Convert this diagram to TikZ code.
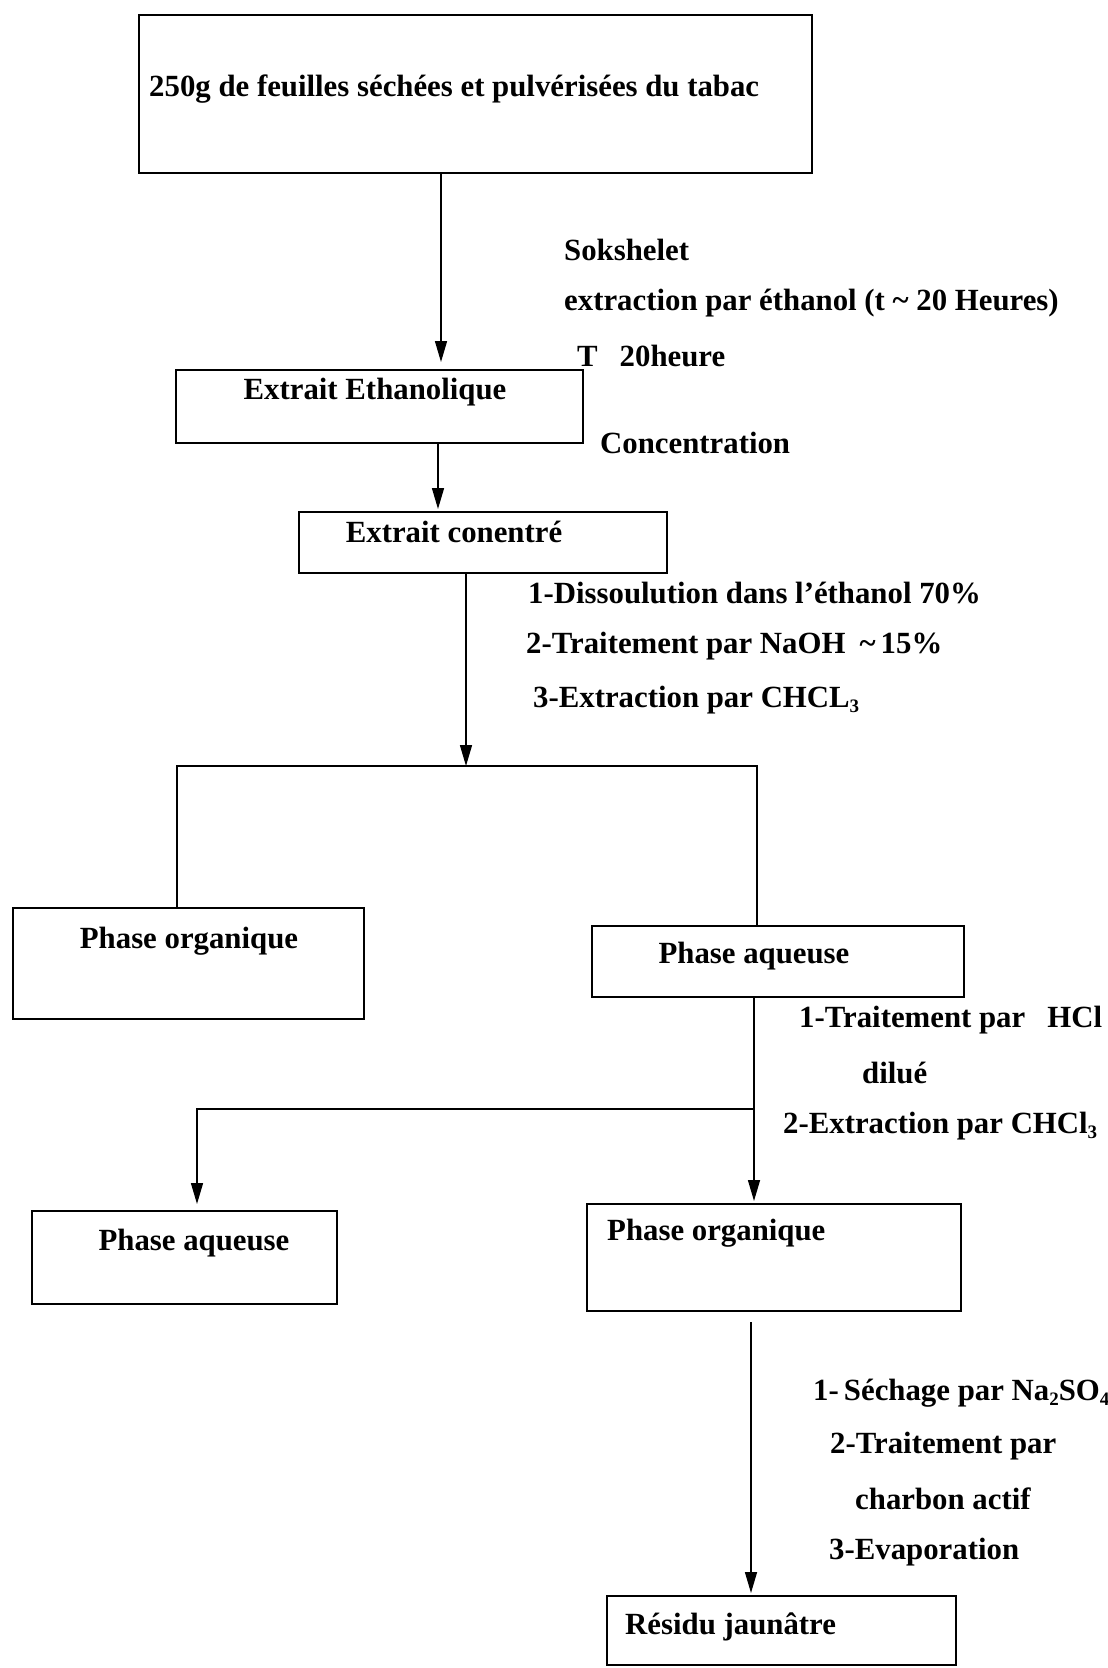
\documentclass[tikz,border=0pt]{standalone}
\usepackage{fontspec}
\setmainfont{Liberation Serif}
\usetikzlibrary{arrows.meta}
\newcommand\mysub[1]{\raisebox{-5pt}{\fontsize{19}{19}\selectfont #1}}
\begin{document}
\begin{tikzpicture}[x=1pt,y=-1pt,
  box/.style={draw,line width=1.5pt,inner sep=0pt,anchor=north west},
  txt/.style={font=\fontsize{30.8}{36}\selectfont\bfseries,inner sep=0pt,anchor=west,yshift=-2pt},
  ln/.style={line width=1.5pt},
  arr/.style={line width=1.5pt,-{Triangle[length=21pt,width=12pt]}}]
\useasboundingbox (0,0) rectangle (1108,1668);
% boxes
\node[box,minimum width=673pt,minimum height=158pt] (top) at (138,14) {};
\node[box,minimum width=407pt,minimum height=73pt] (eth) at (175,369) {};
\node[box,minimum width=368pt,minimum height=61pt] (conc) at (298,511) {};
\node[box,minimum width=351pt,minimum height=111pt] (po1) at (12,907) {};
\node[box,minimum width=372pt,minimum height=71pt] (pa1) at (591,925) {};
\node[box,minimum width=305pt,minimum height=93pt] (pa2) at (31,1210) {};
\node[box,minimum width=374pt,minimum height=107pt] (po2) at (586,1203) {};
\node[box,minimum width=349pt,minimum height=69pt] (res) at (606,1595) {};
% box texts
\node[txt] (ttop) at (149,87) {250g de feuilles séchées et pulvérisées du tabac};
\node[txt,anchor=center] (teth) at (375,390) {Extrait Ethanolique};
\node[txt,anchor=center] (tconc) at (454,530) {Extrait conentré};
\node[txt,anchor=center] (tpo1) at (189,939) {Phase organique};
\node[txt,anchor=center] (tpa1) at (754,954) {Phase aqueuse};
\node[txt,anchor=center] (tpa2) at (194,1241) {Phase aqueuse};
\node[txt] (tpo2) at (607,1231) {Phase organique};
\node[txt] (tres) at (625,1625) {Résidu jaunâtre};
% step labels
\node[txt] (l1) at (564,248) {Sokshelet};
\node[txt] (l2) at (564,301) {extraction par éthanol (t \textasciitilde\ 20 Heures)};
\node[txt] (l3) at (577,354) {T\hspace{22pt}20heure};
\node[txt] (l4) at (600,441) {Concentration};
\node[txt] (l5) at (528,591) {1-Dissoulution dans l’éthanol 70\%};
\node[txt] (l6) at (526,644) {2-Traitement par NaOH\hspace{14pt}\textasciitilde\,15\%};
\node[txt] (l7) at (533,698) {3-Extraction par CHCL\mysub{3}};
\node[txt] (l8) at (799,1018) {1-Traitement par\hspace{22pt}HCl};
\node[txt] (l9) at (862,1071) {dilué};
\node[txt] (l10) at (783,1124) {2-Extraction par CHCl\mysub{3}};
\node[txt] (l11) at (813,1391) {1-\,Séchage par Na\mysub{2}SO\mysub{4}};
\node[txt] (l12) at (830,1444) {2-Traitement par};
\node[txt] (l13) at (855,1497) {charbon actif};
\node[txt] (l14) at (829,1550) {3-Evaporation};
% junction coordinates
\coordinate (a1) at (441,0);
\coordinate (a2) at (438,0);
\coordinate (j1) at (466,766);
\coordinate (hL) at (177,766);
\coordinate (hR) at (757,766);
\coordinate (k) at (754,1109);
\coordinate (kL) at (197,1109);
\coordinate (m) at (751,1322);
% connectors
\draw[arr,shorten >=7pt] (top.south -| a1) -- (eth.north -| a1);
\draw[arr,shorten >=2pt] (eth.south -| a2) -- (conc.north -| a2);
\draw[arr] (conc.south -| j1) -- (j1);
\draw[ln] (po1.north -| hL) -- (hL) -- (hR) -- (pa1.north -| hR);
\draw[ln] (pa1.south -| k) -- (k);
\draw[arr,shorten >=2pt] (k) -- (po2.north -| k);
\draw[arr,shorten >=6pt] (k) -- (kL) -- (pa2.north -| kL);
\draw[arr,shorten >=2pt] (m) -- (res.north -| m);
\end{tikzpicture}
\end{document}
